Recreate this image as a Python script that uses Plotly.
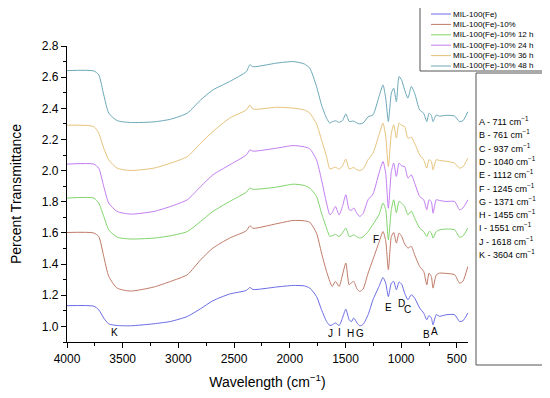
import plotly.graph_objects as go

# Wavenumber grid (cm^-1)
wavenumber = [4000, 3760, 3715, 3670, 3625, 3550, 3430, 3220, 3070, 2920, 2800, 2690, 2540, 2390,
              2358, 2330, 2120, 1970, 1870, 1820, 1760, 1715, 1670, 1640, 1620, 1590, 1557, 1527,
              1497, 1467, 1447, 1426, 1396, 1372, 1342, 1297, 1253, 1199, 1163, 1139, 1115, 1088,
              1067, 1043, 1019, 995, 969, 939, 909, 879, 834, 798, 770, 750, 729, 714, 685, 655,
              595, 520, 476, 446, 401]

mil100 = [1.133, 1.130, 1.107, 1.054, 1.016, 1.006, 1.004, 1.017, 1.032, 1.064, 1.114, 1.165, 1.208, 1.231,
          1.250, 1.237, 1.253, 1.263, 1.260, 1.246, 1.192, 1.107, 1.032, 1.006, 1.010, 1.022, 1.006, 1.054,
          1.111, 1.043, 1.030, 1.054, 1.022, 1.004, 1.013, 1.075, 1.171, 1.257, 1.314, 1.278, 1.192, 1.278,
          1.289, 1.235, 1.285, 1.270, 1.214, 1.171, 1.203, 1.182, 1.118, 1.086, 1.043, 1.070, 1.054, 1.011,
          1.075, 1.065, 1.075, 1.075, 1.032, 1.036, 1.086]

mil100_10 = [1.603, 1.600, 1.577, 1.449, 1.321, 1.246, 1.227, 1.253, 1.289, 1.332, 1.428, 1.503, 1.567, 1.614,
             1.646, 1.630, 1.659, 1.680, 1.678, 1.668, 1.599, 1.471, 1.353, 1.289, 1.257, 1.289, 1.257, 1.330,
             1.407, 1.267, 1.280, 1.289, 1.240, 1.225, 1.240, 1.342, 1.430, 1.540, 1.609, 1.550, 1.364, 1.577,
             1.603, 1.535, 1.599, 1.577, 1.530, 1.503, 1.514, 1.460, 1.385, 1.353, 1.267, 1.342, 1.320, 1.246,
             1.330, 1.342, 1.340, 1.332, 1.278, 1.290, 1.385]

mil100_10_12h = [1.824, 1.824, 1.792, 1.706, 1.620, 1.573, 1.561, 1.567, 1.582, 1.609, 1.674, 1.738, 1.802, 1.862,
                 1.888, 1.880, 1.894, 1.913, 1.905, 1.888, 1.834, 1.727, 1.631, 1.577, 1.583, 1.590, 1.577, 1.600,
                 1.631, 1.577, 1.580, 1.588, 1.575, 1.567, 1.575, 1.609, 1.655, 1.716, 1.792, 1.750, 1.556, 1.750,
                 1.813, 1.730, 1.802, 1.790, 1.770, 1.716, 1.740, 1.695, 1.631, 1.609, 1.577, 1.609, 1.600, 1.567,
                 1.609, 1.620, 1.625, 1.620, 1.572, 1.580, 1.631]

mil100_10_24h = [2.042, 2.042, 2.016, 1.898, 1.792, 1.738, 1.721, 1.738, 1.770, 1.813, 1.898, 1.973, 2.037, 2.101,
                 2.133, 2.125, 2.144, 2.161, 2.153, 2.140, 2.069, 1.941, 1.792, 1.716, 1.730, 1.770, 1.716, 1.770,
                 1.845, 1.750, 1.745, 1.760, 1.725, 1.706, 1.725, 1.813, 1.850, 1.984, 2.058, 1.984, 1.759, 1.995,
                 2.048, 1.963, 2.048, 2.030, 2.027, 1.952, 1.973, 1.920, 1.834, 1.813, 1.749, 1.813, 1.800, 1.727,
                 1.813, 1.808, 1.802, 1.802, 1.749, 1.760, 1.813]

mil100_10_36h = [2.292, 2.283, 2.240, 2.144, 2.069, 2.016, 2.001, 2.016, 2.048, 2.090, 2.176, 2.251, 2.337, 2.390,
                 2.422, 2.395, 2.407, 2.401, 2.390, 2.369, 2.300, 2.198, 2.090, 2.010, 2.015, 2.022, 2.010, 2.030,
                 2.074, 2.010, 2.015, 2.020, 2.005, 2.001, 2.010, 2.070, 2.112, 2.230, 2.305, 2.220, 2.026, 2.240,
                 2.294, 2.210, 2.305, 2.290, 2.283, 2.208, 2.215, 2.176, 2.101, 2.070, 2.016, 2.070, 2.060, 2.005,
                 2.070, 2.065, 2.060, 2.048, 2.016, 2.025, 2.080]

mil100_10_48h = [2.642, 2.640, 2.615, 2.486, 2.369, 2.321, 2.309, 2.313, 2.330, 2.369, 2.454, 2.518, 2.572, 2.636,
                 2.680, 2.667, 2.690, 2.700, 2.685, 2.657, 2.540, 2.422, 2.337, 2.305, 2.313, 2.320, 2.310, 2.320,
                 2.364, 2.316, 2.316, 2.318, 2.305, 2.300, 2.305, 2.345, 2.358, 2.475, 2.550, 2.466, 2.315, 2.497,
                 2.529, 2.443, 2.604, 2.580, 2.518, 2.465, 2.540, 2.497, 2.390, 2.368, 2.315, 2.368, 2.355, 2.315,
                 2.357, 2.350, 2.355, 2.350, 2.315, 2.320, 2.379]

series_names = ["MIL-100(Fe)", "MIL-100(Fe)-10%", "MIL-100(Fe)-10% 12 h",
                "MIL-100(Fe)-10% 24 h", "MIL-100(Fe)-10% 36 h", "MIL-100(Fe)-10% 48 h"]
series_values = [mil100, mil100_10, mil100_10_12h, mil100_10_24h, mil100_10_36h, mil100_10_48h]
series_colors = ["#6b6be6", "#c07a66", "#7fd46a", "#c27cf2", "#e6c27a", "#6aa8b8"]

# Peak labels (letter, wavenumber position, y position)
peak_letters = ["K", "J", "I", "H", "G", "F", "E", "D", "C", "B", "A"]
peak_x = [3573, 1634, 1551, 1456, 1366, 1229, 1118, 998, 939, 774, 700]
peak_y = [0.962, 0.957, 0.962, 0.957, 0.957, 1.561, 1.124, 1.144, 1.107, 0.947, 0.968]

band_labels = ["A - 711", "B - 761", "C - 937", "D - 1040", "E - 1112", "F - 1245",
               "G - 1371", "H - 1455", "I - 1551", "J - 1618", "K - 3604"]

FONT = "Arial, Liberation Sans, sans-serif"
OFF = 8  # page body margin of the browser
L, R, T, B = 59, 82, 38, 56
W, H = 550 - OFF, 398 - OFF
PW, PH = W - L - R, H - T - B


def px(x):
    # x given in window pixels
    return (x - OFF - L) / PW


def py(y):
    return (H - B - (y - OFF)) / PH


fig = go.Figure()
for name, vals, col in zip(series_names, series_values, series_colors):
    fig.add_trace(go.Scatter(x=wavenumber, y=vals, mode="lines", name=name,
                             line=dict(color=col, width=1, shape="spline", smoothing=0.6),
                             showlegend=False))

annotations = []
for letter, xv, yv in zip(peak_letters, peak_x, peak_y):
    annotations.append(dict(x=xv, y=yv, xref="x", yref="y", text=letter, showarrow=False,
                            font=dict(family=FONT, size=10, color="black")))

shapes = []
# legend box
shapes.append(dict(type="rect", xref="paper", yref="paper", x0=px(420), x1=px(544), y0=py(71), y1=py(6),
                   line=dict(color="#555555", width=1), fillcolor="white"))
leg_y = [14, 24.4, 34.8, 45.2, 55.6, 66]
for name, col, yy in zip(series_names, series_colors, leg_y):
    shapes.append(dict(type="line", xref="paper", yref="paper", x0=px(431), x1=px(451), y0=py(yy), y1=py(yy),
                       line=dict(color=col, width=1)))
    annotations.append(dict(x=px(451), y=py(yy), xref="paper", yref="paper", text=name, showarrow=False,
                            xanchor="left", yanchor="middle", font=dict(family=FONT, size=8, color="black")))

# band assignment box
shapes.append(dict(type="rect", xref="paper", yref="paper", x0=px(476), x1=px(543), y0=py(365), y1=py(73),
                   line=dict(color="#555555", width=1), fillcolor="white"))
for i, lab in enumerate(band_labels):
    annotations.append(dict(x=px(477), y=py(121 + i * 13.3), xref="paper", yref="paper",
                            text=lab + " cm<sup>−1</sup>", showarrow=False,
                            xanchor="left", yanchor="middle", font=dict(family=FONT, size=9, color="black")))

fig.update_layout(
    width=W, height=H,
    margin=dict(l=L, r=R, t=T, b=B, autoexpand=False),
    paper_bgcolor="white", plot_bgcolor="white",
    font=dict(family=FONT, color="black"),
    annotations=annotations, shapes=shapes,
    xaxis=dict(range=[4000, 400], tick0=0, dtick=500, ticks="outside", ticklen=5, tickwidth=1.2,
               showline=True, linecolor="black", linewidth=1.2, showgrid=False, zeroline=False,
               automargin=False,
               tickfont=dict(size=12, family=FONT), tickcolor="black",
               minor=dict(dtick=250, ticks="outside", ticklen=3, tickcolor="black", showgrid=False),
               title=dict(text="Wavelength (cm<sup>−1</sup>)", font=dict(size=14, family=FONT), standoff=12)),
    yaxis=dict(range=[0.9, 2.8], tick0=0, dtick=0.2, tickformat=".1f", ticks="outside", ticklen=5,
               tickwidth=1.2, showline=True, linecolor="black", linewidth=1.2, showgrid=False, zeroline=False,
               automargin=False,
               tickfont=dict(size=12, family=FONT), tickcolor="black",
               minor=dict(dtick=0.1, ticks="outside", ticklen=3, tickcolor="black", showgrid=False),
               title=dict(text="Percent Transmittance", font=dict(size=14, family=FONT), standoff=18)),
)

fig.write_html("out.html")
